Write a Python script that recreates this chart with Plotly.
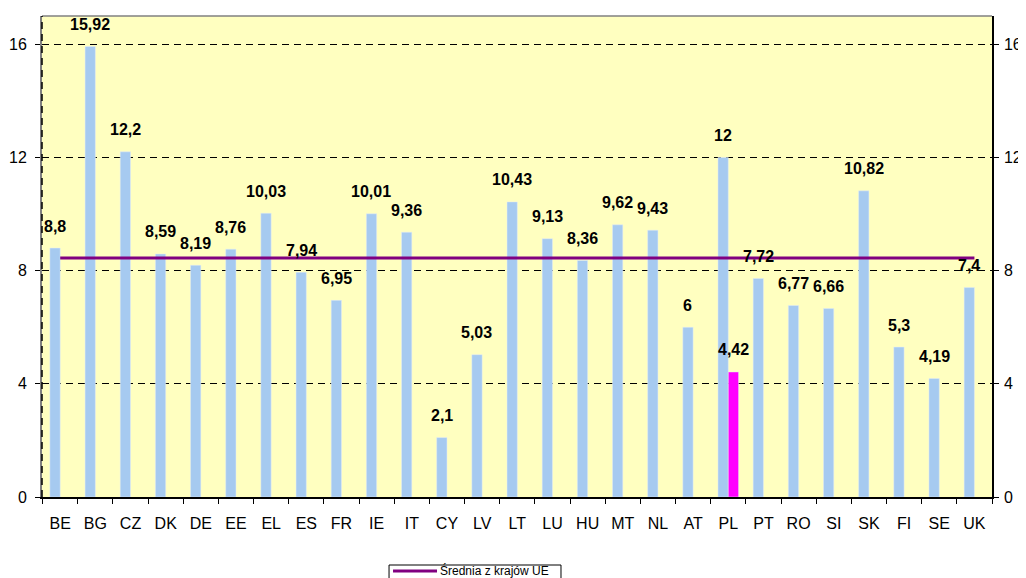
import plotly.graph_objects as go

countries = ["BE", "BG", "CZ", "DK", "DE", "EE", "EL", "ES", "FR", "IE", "IT", "CY", "LV", "LT",
             "LU", "HU", "MT", "NL", "AT", "PL", "PT", "RO", "SI", "SK", "FI", "SE", "UK"]
values = [8.8, 15.92, 12.2, 8.59, 8.19, 8.76, 10.03, 7.94, 6.95, 10.01, 9.36, 2.1, 5.03, 10.43,
          9.13, 8.36, 9.62, 9.43, 6, 12, 7.72, 6.77, 6.66, 10.82, 5.3, 4.19, 7.4]
pl_values = [None] * 19 + [4.42] + [None] * 7
eu_avg = [8.45] * 27
y_ticks = [0, 4, 8, 12, 16]
legend_name = "Średnia z krajów UE"

FONT = "Arial, Liberation Sans, sans-serif"
BLUE = "#A6CAF0"
MAGENTA = "#FF00FF"
PURPLE = "#800080"

def fmt(v):
    return f"{v:g}".replace(".", ",")

fig = go.Figure()
fig.add_trace(go.Bar(x=countries, y=values, marker_color=BLUE, showlegend=False,
                     hoverinfo="skip"))
fig.add_trace(go.Bar(x=countries, y=pl_values, marker_color=MAGENTA, showlegend=False,
                     hoverinfo="skip"))
fig.add_trace(go.Scatter(x=countries, y=eu_avg, mode="lines", name=legend_name,
                         line=dict(color=PURPLE, width=3), showlegend=False))
# invisible trace to activate right axis
fig.add_trace(go.Scatter(x=countries, y=eu_avg, yaxis="y2", mode="lines",
                         line=dict(width=0), showlegend=False, hoverinfo="skip"))

annotations = []
for c, v in zip(countries, values):
    annotations.append(dict(x=c, y=v, text=fmt(v), showarrow=False, xshift=-5.2, yshift=22,
                            font=dict(family=FONT, size=16, color="black", weight="bold")))
for c, v in zip(countries, pl_values):
    if v is not None:
        annotations.append(dict(x=c, y=v, text=fmt(v), showarrow=False, xshift=5.2, yshift=22,
                                font=dict(family=FONT, size=16, color="black", weight="bold")))

# legend (box at the bottom, partly cut by the page edge as in the reference)
LEG_Y = -0.1538
annotations.append(dict(xref="paper", yref="paper", x=0.4168, y=LEG_Y, xanchor="left",
                        yanchor="middle", text=legend_name, showarrow=False,
                        font=dict(family=FONT, size=12, color="black")))

fig.update_layout(
    width=1018, height=570,
    margin=dict(l=34, r=34, t=8, b=81, autoexpand=False),
    paper_bgcolor="white", plot_bgcolor="#FFFFC0",
    barmode="group", bargap=0.414, bargroupgap=0,
    showlegend=False,
    font=dict(family=FONT, size=16, color="black"),
    xaxis=dict(showgrid=False, ticks="outside", tickson="boundaries", ticklen=5,
               tickcolor="black", showline=True, linecolor="black", linewidth=2,
               tickfont=dict(size=16), fixedrange=True, automargin=False,
               ticklabelstandoff=11),
    yaxis=dict(range=[0, 17], tickvals=y_ticks, showgrid=True, gridcolor="black",
               griddash="7px,5px", gridwidth=1, zeroline=False, ticks="outside",
               ticklen=5, tickcolor="black", showline=True, linecolor="#808080",
               linewidth=2, tickfont=dict(size=16), automargin=False,
               ticklabelstandoff=5),
    yaxis2=dict(range=[0, 17], tickvals=y_ticks, overlaying="y", side="right",
                showgrid=False, zeroline=False, ticks="outside", ticklen=5,
                tickcolor="black", showline=True, linecolor="black", linewidth=1.5,
                tickfont=dict(size=16), automargin=False, ticklabelstandoff=2),
    annotations=annotations,
    shapes=[
        dict(type="line", xref="paper", yref="paper", x0=0, x1=1, y0=1, y1=1,
             line=dict(color="#808080", width=1.5)),
        dict(type="line", xref="paper", yref="paper", x0=0, x1=0, y0=0, y1=1,
             line=dict(color="black", width=1.5, dash="7px,5px")),
        dict(type="rect", xref="paper", yref="paper", x0=0.3653, x1=0.5463,
             y0=-0.1414, y1=-0.1892, line=dict(color="black", width=1),
             fillcolor="white", layer="above"),
        dict(type="line", xref="paper", yref="paper", x0=0.3695, x1=0.4158,
             y0=LEG_Y, y1=LEG_Y, line=dict(color=PURPLE, width=3)),
    ],
)

fig.write_html("out.html")
